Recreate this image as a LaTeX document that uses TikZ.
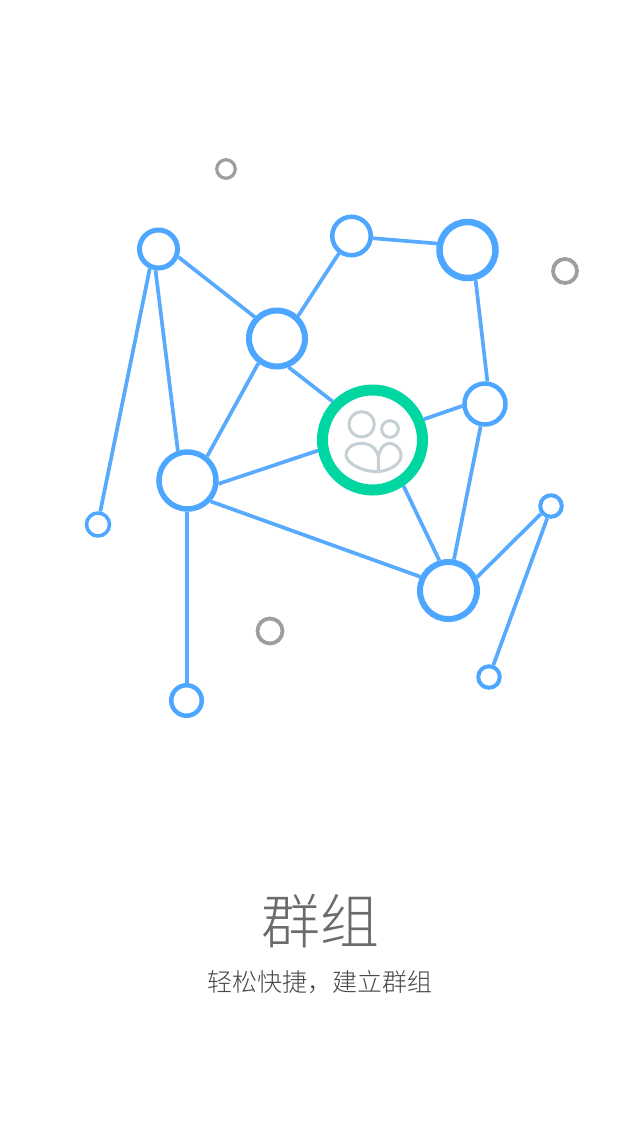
\documentclass[tikz,border=0pt]{standalone}
\usepackage{fontspec}
\newfontfamily\cjklight{Noto Sans CJK SC Light}
\begin{document}
\begin{tikzpicture}[x=1pt,y=-1pt,
  hub/.style={circle,draw=nodeblue,fill=white,inner sep=0pt},
  dot/.style={circle,draw=dotgray,fill=white,inner sep=0pt},
  link/.style={draw=linkblue,line width=3.7pt},
  icon/.style={draw=icongray,line width=3pt,line join=round}]
\definecolor{nodeblue}{HTML}{4DA6FF}
\definecolor{linkblue}{HTML}{58AAFF}
\definecolor{dotgray}{HTML}{9E9E9E}
\definecolor{icongray}{HTML}{C6CFD4}
\definecolor{hubgreen}{HTML}{00D6A2}
\useasboundingbox (0,0) rectangle (640,1136);
\fill[white] (0,0) rectangle (640,1136);
\node[hub,line width=5pt,minimum size=38pt] (n1) at (158.5,249) {};
\node[hub,line width=4.5pt,minimum size=38.5pt] (n2) at (351.5,236) {};
\node[hub,line width=6.5pt,minimum size=56pt] (n3) at (467.5,250) {};
\node[hub,line width=6pt,minimum size=56pt] (n4) at (277,338.5) {};
\node[hub,line width=4.5pt,minimum size=41pt] (n5) at (485,404) {};
\node[hub,line width=5.5pt,minimum size=57pt] (n6) at (187.5,480.5) {};
\node[hub,line width=3.5pt,minimum size=23pt] (n7) at (98,524.5) {};
\node[hub,line width=6pt,minimum size=57pt] (n8) at (448.5,590.5) {};
\node[hub,line width=4pt,minimum size=21.5pt] (n9) at (551,506) {};
\node[hub,line width=4pt,minimum size=21.5pt] (n10) at (489,677) {};
\node[hub,line width=4.5pt,minimum size=30.5pt] (n11) at (186.5,700.5) {};
\node[circle,draw=hubgreen,fill=white,inner sep=0pt,line width=11pt,minimum size=100pt] (c) at (372.5,440) {};
\node[dot,line width=3.2pt,minimum size=18.5pt] (g1) at (226,169) {};
\node[dot,line width=3.8pt,minimum size=24pt] (g2) at (565,271) {};
\node[dot,line width=3.8pt,minimum size=25pt] (g3) at (270,631) {};
\draw[link] (n1.246)--(n7.80.5);
\draw[link] (n1.262.5)--(n6.108.7);
\draw[link] (n1.338)--(n4.136);
\draw[link] (n4.47.7)--(n2.234.3);
\draw[link] (n2.354.4)--(n3.168.5);
\draw[link] (n3.285.8)--(n5.84.3);
\draw[link] (n4.233)--(n6.51.8);
\draw[link] (n4.292)--(c.136);
\draw[link] (n6.354)--(c.191.8);
\draw[link] (c.22)--(n5.185.7);
\draw[link] (c.304.7)--(n8.107.5);
\draw[link] (n5.259)--(n8.80.9);
\draw[link] (n6.318.4)--(n8.154);
\draw[link] (n8.25.3)--(n9.218.7);
\draw[link] (n9.253.3)--(n10.70);
\draw[link,line width=4pt] (n11 |- n6.south)--(n11);
\begin{scope}[shift={(310,375)},xscale=1/3,yscale=1/3]
\draw[icon] (155,148) circle[radius=38];
\draw[icon] (240,162) circle[radius=25];
\draw[icon] (205,290) -- (205,245) .. controls (200,220) and (180,205) .. (155,205)
  .. controls (125,205) and (108,222) .. (108,240)
  .. controls (108,262) and (150,290) .. (205,290)
  .. controls (245,285) and (275,265) .. (273,238)
  .. controls (270,215) and (250,205) .. (238,205)
  .. controls (225,205) and (212,215) .. (205,245);
\end{scope}
\node[text=black!58,font=\cjklight\fontsize{59}{59}\selectfont,inner sep=0pt] (title) at (320,921) {群组};
\node[text=black!72,font=\cjklight\fontsize{25}{25}\selectfont,inner sep=0pt] (sub) at (320,982) {轻松快捷，建立群组};
\end{tikzpicture}
\end{document}
